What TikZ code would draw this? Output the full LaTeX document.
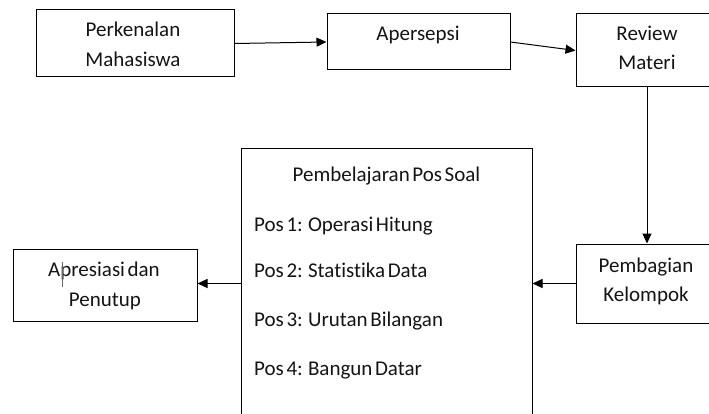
\documentclass[tikz,border=0pt]{standalone}
\usepackage{fontspec}
\setmainfont{Carlito}[WordSpace=0.55, Ligatures=NoCommon]
\usetikzlibrary{arrows.meta,calc}
\begin{document}
\begin{tikzpicture}[x=1pt,y=-1pt,
  box/.style={draw=black, line width=1pt, rectangle, inner sep=0pt},
  lbl/.style={anchor=base, inner sep=0pt, text=black!92, font=\fontsize{21}{30}\selectfont},
  arr/.style={draw=black, line width=1pt, -{Triangle[length=10pt,width=9pt]}}]
\useasboundingbox (0,0) rectangle (709,414);
\clip (0,0) rectangle (709,414);
% boxes
\node[box, minimum width=198pt, minimum height=67pt] (perk) at (135,43.5) {};
\node[box, minimum width=183pt, minimum height=56pt] (aper) at (418.5,42) {};
\node[box, minimum width=142pt, minimum height=73pt] (rev) at (647,50.5) {};
\node[box, minimum width=140pt, minimum height=79pt] (pemb) at (646,283.5) {};
\node[box, minimum width=291pt, minimum height=281pt] (pbl) at (386.5,289.5) {};
\node[box, minimum width=184pt, minimum height=72pt] (apr) at (105,285) {};
% labels
\node[lbl] (perk1) at (133,37) {Perkenalan};
\node[lbl] (perk2) at (133,67) {Mahasiswa};
\node[lbl] (aper1) at (418,41) {Apersepsi};
\node[lbl] (rev1) at (647,41) {Review};
\node[lbl] (rev2) at (647,70) {Materi};
\node[lbl] (pemb1) at (646,272) {Pembagian};
\node[lbl] (pemb2) at (646,301) {Kelompok};
\node[lbl] (apr1) at (104,276) {Apresiasi dan};
\node[lbl] (apr2) at (105,306) {Penutup};
\node[lbl] (pbl0) at (386.5,182) {Pembelajaran Pos Soal};
\node[lbl, anchor=base west] (pos1) at (254,231) {Pos 1:\ \ Operasi Hitung};
\node[lbl, anchor=base west] (pos2) at (254,277) {Pos 2:\ \ Statistika Data};
\node[lbl, anchor=base west] (pos3) at (254,326) {Pos 3:\ \ Urutan Bilangan};
\node[lbl, anchor=base west] (pos4) at (254,375) {Pos 4:\ \ Bangun Datar};
% cursor mark
\draw[black!60, line width=0.6pt] (62,262) -- (62,287);
% connectors
\draw[arr] (perk.east) -- (aper.west);
\draw[arr] (aper.east) -- (rev.west);
\draw[arr] (rev.south) -- (rev.south |- pemb.north);
\draw[arr] (pemb.west) -- (pemb.west -| pbl.east);
\draw[arr] (pemb.west -| pbl.west) -- (pemb.west -| apr.east);
\end{tikzpicture}
\end{document}
